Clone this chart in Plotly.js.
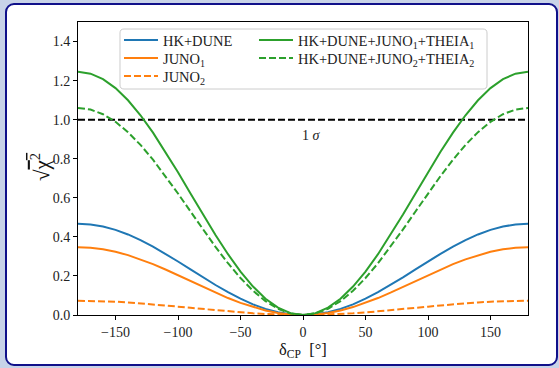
<!DOCTYPE html>
<html>
<head>
<meta charset="utf-8">
<script src="https://cdn.plot.ly/plotly-3.0.1.min.js"></script>
<style>
  html, body { margin: 0; padding: 0; }
  body { width: 559px; height: 368px; background: #c8d3e8; position: relative; overflow: hidden; }
  #frame { position: absolute; left: 5px; top: 3px; width: 549px; height: 359px;
           border: 2px solid #10108a; border-radius: 9px; background: #ffffff; }
  #chart { position: absolute; left: 0; top: 0; width: 559px; height: 368px; }
</style>
</head>
<body>
<div id="frame"></div>
<div id="chart"></div>
<script>
// CP phase grid (degrees)
const deltaCP = [-180,-170,-160,-150,-140,-130,-120,-110,-100,-90,-80,-70,-60,-50,-40,-30,-20,-10,0,
                 10,20,30,40,50,60,70,80,90,100,110,120,130,140,150,160,170,180];

// sqrt(chi^2) for each experiment combination
const hkDune = [0.467,0.4635,0.4529,0.4357,0.4124,0.3836,0.3503,0.3134,0.274,0.2335,0.193,0.1536,0.1168,0.0834,0.0546,0.0313,0.0141,0.0035,0,
                0.0035,0.0141,0.0313,0.0546,0.0834,0.1168,0.1536,0.193,0.2335,0.274,0.3134,0.3503,0.3836,0.4124,0.4357,0.4529,0.4635,0.467];
const juno1 = [0.347,0.3444,0.3365,0.3238,0.3064,0.285,0.2603,0.2328,0.2036,0.1735,0.1434,0.1142,0.0868,0.062,0.0406,0.0232,0.0105,0.0026,0,
               0.0026,0.0105,0.0232,0.0406,0.062,0.0868,0.1142,0.1434,0.1735,0.2036,0.2328,0.2603,0.285,0.3064,0.3238,0.3365,0.3444,0.347];
const juno2 = [0.073,0.0724,0.0708,0.0681,0.0645,0.06,0.0548,0.049,0.0428,0.0365,0.0302,0.024,0.0183,0.013,0.0085,0.0049,0.0022,0.0006,0,
               0.0006,0.0022,0.0049,0.0085,0.013,0.0183,0.024,0.0302,0.0365,0.0428,0.049,0.0548,0.06,0.0645,0.0681,0.0708,0.0724,0.073];
const combo1 = [1.245,1.2355,1.2074,1.1616,1.0993,1.0226,0.9338,0.8354,0.7306,0.6225,0.5144,0.4096,0.3113,0.2224,0.1457,0.0834,0.0376,0.0095,0,
                0.0095,0.0376,0.0834,0.1457,0.2224,0.3113,0.4096,0.5144,0.6225,0.7306,0.8354,0.9338,1.0226,1.0993,1.1616,1.2074,1.2355,1.245];
const combo2 = [1.06,1.0519,1.028,0.989,0.936,0.8707,0.795,0.7113,0.622,0.53,0.438,0.3487,0.265,0.1893,0.124,0.071,0.032,0.0081,0,
                0.0081,0.032,0.071,0.124,0.1893,0.265,0.3487,0.438,0.53,0.622,0.7113,0.795,0.8707,0.936,0.989,1.028,1.0519,1.06];

// 1 sigma reference level
const sigmaX = [-180, 180];
const sigmaY = [1, 1];

const xTicks = [-150, -100, -50, 0, 50, 100, 150];
const yTicks = [0, 0.2, 0.4, 0.6, 0.8, 1.0, 1.2, 1.4];

const serif = '"Liberation Serif", "Times New Roman", serif';
const BLUE = '#1f77b4', ORANGE = '#ff7f0e', GREEN = '#2ca02c';
const DASH = '7px,3px';

function curve(y, name, color, dash, legendId) {
  return { x: deltaCP, y: y, name: name, type: 'scatter', mode: 'lines', legend: legendId,
           line: { color: color, width: 2, dash: dash } };
}

const traces = [
  { x: sigmaX, y: sigmaY, type: 'scatter', mode: 'lines', showlegend: false,
    line: { color: '#000', width: 2, dash: DASH }, hoverinfo: 'skip' },
  curve(hkDune, 'HK+DUNE', BLUE, 'solid', 'legend'),
  curve(juno1, 'JUNO<sub>1</sub>', ORANGE, 'solid', 'legend2'),
  curve(juno2, 'JUNO<sub>2</sub>', ORANGE, DASH, 'legend3'),
  curve(combo1, 'HK+DUNE+JUNO<sub>1</sub>+THEIA<sub>1</sub>', GREEN, 'solid', 'legend4'),
  curve(combo2, 'HK+DUNE+JUNO<sub>2</sub>+THEIA<sub>2</sub>', GREEN, DASH, 'legend5')
];

// one legend per entry, laid out as a two-column key inside a shared box
const legendFont = { family: serif, size: 14.5, color: '#222' };
function legendAt(x, y) {
  return { x: x, y: y, xanchor: 'left', yanchor: 'middle', bgcolor: 'rgba(0,0,0,0)',
           borderwidth: 0, itemwidth: 34, font: legendFont };
}
const col1 = 0.0911, col2 = 0.3911;
const row1 = 0.9386, row2 = 0.8771, row3 = 0.8157;

// rounded legend frame in paper coordinates
const bx0 = 0.0933, bx1 = 0.9089, by0 = 0.7713, by1 = 0.9761, rx = 0.0089, ry = 0.0137;
const boxPath = `M${bx0 + rx},${by1} L${bx1 - rx},${by1} Q${bx1},${by1} ${bx1},${by1 - ry} ` +
                `L${bx1},${by0 + ry} Q${bx1},${by0} ${bx1 - rx},${by0} L${bx0 + rx},${by0} ` +
                `Q${bx0},${by0} ${bx0},${by0 + ry} L${bx0},${by1 - ry} Q${bx0},${by1} ${bx0 + rx},${by1} Z`;

const layout = {
  width: 559, height: 368,
  margin: { l: 78, r: 31, t: 22, b: 53 },
  paper_bgcolor: 'rgba(0,0,0,0)',
  plot_bgcolor: '#ffffff',
  font: { family: serif, size: 14, color: '#222' },
  showlegend: true,
  legend: legendAt(col1, row1),
  legend2: legendAt(col1, row2),
  legend3: legendAt(col1, row3),
  legend4: legendAt(col2, row1),
  legend5: legendAt(col2, row2),
  xaxis: {
    range: [-180, 180], tickvals: xTicks, ticks: 'outside', ticklen: 4, tickwidth: 1,
    tickcolor: '#000', showline: true, linecolor: '#000', linewidth: 1, mirror: true,
    showgrid: false, zeroline: false,
    tickfont: { family: serif, size: 14, color: '#222' }
  },
  yaxis: {
    range: [0, 1.5], tickvals: yTicks, tickformat: '.1f', ticks: 'outside', ticklen: 4, tickwidth: 1,
    tickcolor: '#000', showline: true, linecolor: '#000', linewidth: 1, mirror: true,
    showgrid: false, zeroline: false,
    tickfont: { family: serif, size: 14, color: '#222' }
  },
  shapes: [
    { type: 'path', xref: 'paper', yref: 'paper', path: boxPath, layer: 'above',
      fillcolor: 'rgba(255,255,255,0.8)', line: { color: '#cccccc', width: 1 } }
  ],
  annotations: [
    { x: 7, y: 0.918, xref: 'x', yref: 'y', text: '1 <i>σ</i>', showarrow: false,
      font: { family: serif, size: 14, color: '#222' } },
    // axis titles
    { x: 0.5, y: -0.0819, xref: 'paper', yref: 'paper', xanchor: 'center', yanchor: 'top',
      text: 'δ<sub>CP</sub>  [°]', showarrow: false, borderpad: 0,
      font: { family: serif, size: 16.5, color: '#111' } },
    { x: -0.0844, y: 0.505, xref: 'paper', yref: 'paper', xanchor: 'center', yanchor: 'middle',
      textangle: -90, showarrow: false,
      text: '√<span style="text-decoration:overline">χ<sup>2</sup></span>',
      font: { family: serif, size: 21, color: '#111' } }
  ]
};

Plotly.newPlot('chart', traces, layout, { staticPlot: true });
</script>
</body>
</html>
